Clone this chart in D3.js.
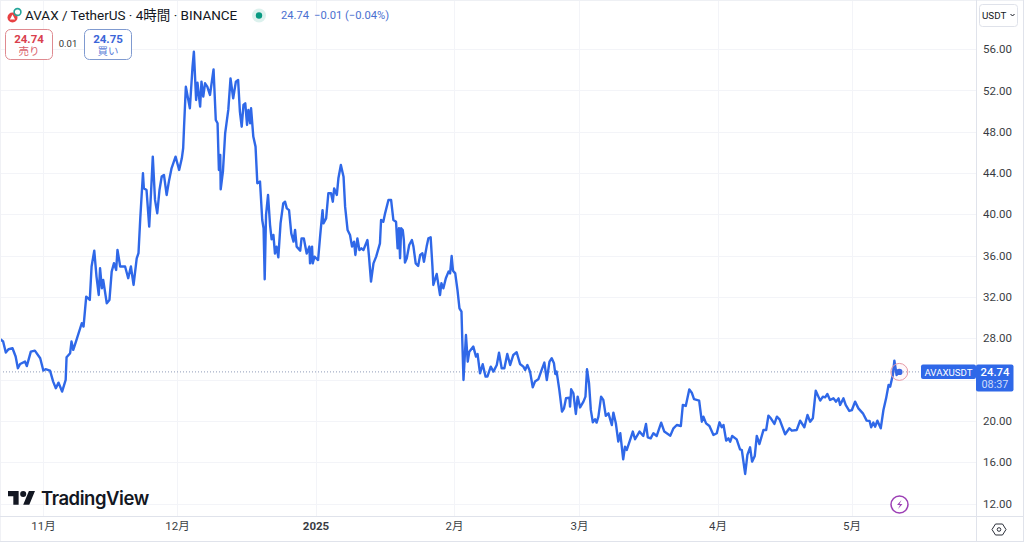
<!DOCTYPE html>
<html><head><meta charset="utf-8">
<script src="https://cdn.jsdelivr.net/npm/d3@7"></script>
<style>html,body{margin:0;padding:0;background:#fff;overflow:hidden}svg{display:block}text{font-family:Roboto,"Noto Sans CJK JP",sans-serif}</style>
</head><body><svg id="c" width="1024" height="544"></svg>
<script>
// Days elapsed since the first sample
const sampleDays=[0,.7,1.3,1.9,2.8,3.5,4,4.5,5.6,6,6.9,7.8,9,9.7,10.2,11.2,11.9,12.5,13.1,13.9,14.7,14.9,15.7,16,16.4,17,18.3,18.7,19.3,20.1,20.5,21.1,21.6,22.1,22.4,22.8,23.1,23.9,24.5,25,25.5,26,26.3,26.9,28,28.7,29.3,29.9,30.6,31,31.4,32,32.2,32.8,33.4,33.8,34.2,34.7,35.2,35.7,36.2,36.7,37.3,37.8,38.4,39.3,40.1,40.7,41,41.2,41.6,42.5,43.1,43.4,43.9,44.2,44.8,45.1,45.5,45.9,46.4,47,47.8,48.3,48.7,49,49.3,49.4,49.9,50.4,51.1,51.6,52.2,52.8,53.3,53.7,54.1,54.5,54.9,55.3,55.6,56,56.2,56.7,57.2,57.6,58.2,58.7,59,59.25,
59.55,60,60.45,60.8,61.2,61.55,61.9,62.3,62.8,63.4,63.8,64.2,64.7,65.2,65.7,66.05,66.4,67.2,67.5,68,68.65,69.25,69.4,69.85,70,70.4,71.2,71.65,72.2,72.4,73,73.5,74.1,74.5,74.8,75.4,75.75,76.3,76.9,77.25,77.8,78.35,78.8,79.25,79.55,80,80.45,80.9,81.35,82.25,82.6,83.05,83.6,84.2,85.05,85.3,85.8,86.2,86.95,87.55,88.05,88.65,89,89.3,89.55,89.8,90.15,90.4,90.65,91.05,91.6,92.2,92.55,93.05,93.6,94.05,94.55,94.9,95.5,95.9,96.4,96.8,97,97.75,98.5,98.8,99.25,99.8,100.4,100.75,101.1,101.4,101.9,102.4,102.85,103.3,103.5,103.75,
103.95,104.3,104.7,105.05,105.95,106.55,106.9,107.45,108.05,108.7,109.1,109.85,110.45,111.2,111.7,112.3,112.9,113.55,114.2,114.9,115.65,116.4,117.15,117.55,118.05,118.65,119.25,119.75,120.5,121.25,121.85,122.4,123,123.5,124,124.3,124.6,125.2,125.8,126.25,126.7,127.45,127.6,127.85,128.35,128.9,129.3,129.85,130.6,131.05,131.4,131.85,132.25,132.7,133.2,133.55,133.95,134.55,135.05,135.6,136.2,136.95,137.3,137.85,138.4,138.85,139.5,139.9,140.3,141.05,141.65,142.15,143.15,144,144.6,145,145.65,146.25,147,148,148.7,149.25,150.05,
150.75,151.5,152.4,152.85,153.5,154.3,154.85,155.35,156.5,157.1,157.45,158.05,158.8,159.7,160.45,161.05,161.55,161.95,162.55,163.05,163.45,163.9,164.9,165.65,166.05,166.8,167.3,167.9,168.35,168.95,169.4,170,170.9,171.5,172,172.55,173.35,173.9,174.5,175.75,176.7,177.25,178.35,179.1,180.05,180.75,181.35,181.95,182.6,183.6,184.2,184.7,185.2,185.8,186.55,187.15,187.7,188.05,188.8,189.3,190.1,190.7,191.4,192.15,193.15,194,194.65,195,195.5,195.9,196.4,197.15,197.75,198.35,198.9,199.25,199.85,200.2,200.7,201.3];
// AVAX/USDT price at each sample
const prices=[27.94,27.68,26.61,26.93,27.03,26.23,25.1,25.5,25.74,25.3,26.7,26.8,26.06,24.87,25,24.87,23.8,23.16,23.7,22.84,23.96,26.16,26.55,27.68,26.87,27.68,29.45,29.13,32.03,31.71,34.94,36.48,33.97,32.19,34.77,32.84,33.65,31.39,31.71,34.45,35.26,34.61,36.55,34.94,34.94,33.81,34.94,33.16,35.74,36.23,39.61,43.97,42.52,42.35,38.81,42.03,45.58,41.39,40.1,42.35,43.65,43.81,41.87,43.16,44.45,45.58,44.29,45.42,46.39,48.48,52.35,50.26,54.29,55.74,51.06,52.74,50.42,52.84,51.39,52.68,52.35,51.55,54.03,49.13,48.81,44.29,45.74,42.42,44.13,47.84,50.1,53.16,51.23,52.84,53,49.94,48.48,50.58,50.74,48.65,50.1,48.81,50.26,47.52,46.55,43,43.16,39.45,38.65,33.71,
39.93,41.87,38.96,37.57,38,36.2,36.87,35.83,39.12,41.06,41.22,40.57,40.4,38.15,37.35,38.48,36.87,36.48,37.67,37.67,36.2,36.87,35.25,36.87,35.25,35.9,35.57,37.83,40.4,39.12,39.6,42.03,42.03,41.22,42.51,41.87,43.48,44.77,43.64,40.74,38.48,38,36.87,37.35,36.06,37.67,36.54,36.7,36.54,37.51,35.9,33.48,35.25,35.9,37.19,39.45,39.28,40.09,41.38,41.38,39.45,39.28,36.7,38.64,35.74,38.64,38.48,37.51,35.32,35.74,37.03,37.51,36.87,35.25,35,36.06,36.22,35.41,36.87,37.67,37.77,34.93,33.16,34.22,32.19,33.32,32.83,33.8,34.45,34.28,35.96,34.54,34.28,32.67,30.9,30.57,27.51,23.96,
25.57,28.31,25.73,26.7,27.19,26.22,26.47,24.6,25.48,24.28,24.28,25.25,24.77,25.41,26.6,25.09,25.09,26.47,25.41,26.38,26.64,25.51,25.25,24.93,25.41,24.77,23.25,23.8,24.02,24.93,25.64,23.96,25.73,26.06,25.57,24.54,24.77,23,20.9,21.22,22.19,22.25,21.38,23.06,22.67,20.67,22.35,21.3,21.86,22.35,24.99,23.64,21.06,19.86,20.15,19.83,20.41,22.35,22.03,20.48,20.73,19.6,20.8,19.77,18,18.8,16.28,17.5,17.19,18.15,18.96,18.22,18.96,18.54,19.7,18.41,18.31,18.8,18.54,19.83,18.96,18.8,18.57,
19.28,19.6,19.5,21.54,21.44,23.05,22.73,22.1,21.96,19.92,20.41,19.76,19.5,18.63,18.8,19.86,19.38,19.6,18.09,18.31,17.99,18.54,18.21,17.25,17.18,14.86,16.7,17.44,16.05,16.6,18.54,17.76,19.12,19.12,20.5,20.25,19.7,20.41,20.15,18.7,19.28,19.05,19.12,20.02,19.38,20.57,19.92,20.25,22.92,21.96,22.34,22.28,22.6,22.02,22.18,21.86,22.18,21.54,22.18,21.54,20.96,21.05,21.86,21.21,20.73,20.02,19.99,19.38,19.83,19.44,20.02,19.28,21.05,22.18,23.47,23.31,24.44,25.83,24.44,24.74];
const priceTicks=[56,52,48,44,40,36,32,28,20,16,12];
const monthLabels=["11月","12月","2025","2月","3月","4月","5月"];
const monthDates=[[2024,10],[2024,11],[2025,0],[2025,1],[2025,2],[2025,3],[2025,4]].map(d=>new Date(Date.UTC(d[0],d[1],1)));
const startTime=Date.UTC(2024,9,22,9);
const lastPrice=24.74;

const svg=d3.select("#c");
const BLUE="#2f68e8";
const x=d3.scaleUtc().domain([monthDates[0],monthDates[6]]).range([43,851.6]);
const y=d3.scaleLinear().domain([12,56]).range([503.5,49]);
const paneW=977,paneB=517;

// grid
const g=svg.append("g");
g.selectAll(".h").data(priceTicks.concat([24])).join("line").attr("x1",0).attr("x2",paneW).attr("y1",d=>Math.round(y(d))+.5).attr("y2",d=>Math.round(y(d))+.5).attr("stroke","#f3f4f8");
g.selectAll(".v").data(monthDates).join("line").attr("y1",0).attr("y2",paneB).attr("x1",d=>Math.round(x(d))+.5).attr("x2",d=>Math.round(x(d))+.5).attr("stroke","#f3f4f8");

// last price dotted line
svg.append("line").attr("x1",0).attr("x2",paneW).attr("y1",y(lastPrice)).attr("y2",y(lastPrice)).attr("stroke","#8f9bb8").attr("stroke-dasharray","1 2");

// series
const line=d3.line().x((d,i)=>x(new Date(startTime+sampleDays[i]*864e5))).y(d=>y(d));
svg.append("path").datum(prices).attr("d",line).attr("fill","none").attr("stroke",BLUE).attr("stroke-width",2.4).attr("stroke-linejoin","round");
const lastX=x(new Date(startTime+sampleDays[sampleDays.length-1]*864e5));
svg.append("circle").attr("cx",lastX).attr("cy",y(lastPrice)).attr("r",3.2).attr("fill",BLUE);
svg.append("circle").attr("cx",lastX).attr("cy",y(lastPrice)).attr("r",8.5).attr("fill","#e0527a").attr("fill-opacity",.04).attr("stroke","#e79aa6").attr("stroke-width",1);

// panes frame
const frame="#e0e3eb";
svg.append("line").attr("x1",.5).attr("x2",.5).attr("y1",0).attr("y2",541).attr("stroke","#f0f1f5");
svg.append("line").attr("x1",0).attr("x2",1024).attr("y1",.5).attr("y2",.5).attr("stroke","#eef0f4");
svg.append("line").attr("x1",976.5).attr("x2",976.5).attr("y1",0).attr("y2",541).attr("stroke",frame);
svg.append("line").attr("x1",0).attr("x2",1024).attr("y1",516.5).attr("y2",516.5).attr("stroke",frame);
svg.append("line").attr("x1",0).attr("x2",1024).attr("y1",541.5).attr("y2",541.5).attr("stroke",frame);
svg.append("line").attr("x1",1023.5).attr("x2",1023.5).attr("y1",0).attr("y2",541).attr("stroke",frame);

// y axis
const yAxis=svg.append("g").attr("transform","translate(977,0)").call(d3.axisRight(y).tickValues(priceTicks).tickSize(0).tickPadding(6).tickFormat(d3.format(".2f")));
yAxis.select(".domain").remove();
yAxis.selectAll("text").attr("font-size",11.5).attr("fill","#131722").attr("opacity",.85);

// x axis
const labelOf=new Map(monthDates.map((d,i)=>[+d,monthLabels[i]]));
const xAxis=svg.append("g").attr("transform","translate(0,517)").call(d3.axisBottom(x).tickValues(monthDates).tickSize(0).tickPadding(5).tickFormat(d=>labelOf.get(+d)));
xAxis.select(".domain").remove();
xAxis.selectAll("text").attr("font-size",11.5).attr("fill","#131722").attr("opacity",.85).attr("font-weight",d=>labelOf.get(+d)==="2025"?700:400);

// title row
const T=(s,px,py,fs,fill,o={})=>svg.append("text").attr("x",px).attr("y",py).attr("font-size",fs).attr("fill",fill).attr("text-anchor",o.a||"start").attr("font-weight",o.w||400).text(s);
svg.append("circle").attr("cx",12.5).attr("cy",17.5).attr("r",5).attr("fill","#e84142");
svg.append("path").attr("d","M12.5 14.5l-2.6 5h5.2z").attr("fill","#fff");
svg.append("circle").attr("cx",17.5).attr("cy",12).attr("r",3.4).attr("fill","none").attr("stroke","#26a69a").attr("stroke-width",1.6);
T("AVAX / TetherUS · 4時間 · BINANCE",25,20,13.5,"#131722");
svg.append("circle").attr("cx",259).attr("cy",15.5).attr("r",7).attr("fill","#089981").attr("fill-opacity",.14);
svg.append("circle").attr("cx",259).attr("cy",15.5).attr("r",3.2).attr("fill","#089981");
T("24.74",281,19,11.2,"#4a6fd0");
T("−0.01 (−0.04%)",314,19,11.2,"#4a6fd0");

// sell / buy
svg.append("rect").attr("x",5.5).attr("y",29.5).attr("width",47).attr("height",30).attr("rx",5).attr("fill","#fff").attr("stroke","#df8a90");
T("24.74",29,43,11.5,"#d9404e",{a:"middle",w:700});
T("売り",29,55,10.5,"#d9606a",{a:"middle"});
T("0.01",68,47,9.5,"#333",{a:"middle"});
svg.append("rect").attr("x",84.5).attr("y",29.5).attr("width",47).attr("height",30).attr("rx",5).attr("fill","#fff").attr("stroke","#7f9ad0");
T("24.75",108,43,11.5,"#3c66d8",{a:"middle",w:700});
T("買い",108,55,10.5,"#5c80d8",{a:"middle"});

// currency button
svg.append("rect").attr("x",979.5).attr("y",4.5).attr("width",38).attr("height",22).attr("rx",3).attr("fill","#fff").attr("stroke","#dfe2ea");
T("USDT",982,19,9.8,"#131722");
svg.append("path").attr("d","M1010.5 14l2 2 2-2").attr("fill","none").attr("stroke","#131722");

// price label
svg.append("rect").attr("x",921).attr("y",364.5).attr("width",55).attr("height",14.5).attr("rx",2).attr("fill",BLUE);
T("AVAXUSDT",948.5,375.5,9.7,"#fff",{a:"middle"});
svg.append("rect").attr("x",976).attr("y",364.5).attr("width",37.5).attr("height",27).attr("rx",2).attr("fill",BLUE);
T("24.74",995,375.5,11.3,"#fff",{a:"middle",w:500});
T("08:37",995,388,10.8,"#cfdcf8",{a:"middle"});

// lightning badge
svg.append("circle").attr("cx",899.5).attr("cy",504.5).attr("r",8.5).attr("fill","#fff").attr("stroke","#9c3fb5").attr("stroke-width",1.5);
svg.append("path").attr("d","M901.5 500l-4.5 5h3l-2 4 4.5-5h-3z").attr("fill","#9c3fb5");

// settings icon
svg.append("path").attr("d","M995.5 524h7l3.5 5.5-3.5 5.5h-7l-3.5-5.5z").attr("fill","none").attr("stroke","#2a2e39");
svg.append("circle").attr("cx",999).attr("cy",529.5).attr("r",1.8).attr("fill","none").attr("stroke","#2a2e39");

// TradingView logo
svg.append("g").attr("transform","translate(8,488) scale(.76)").append("path").attr("d","M14 22H7V11H0V4h14v18zM28 22h-8l7.5-18h8L28 22zM24 8a4 4 0 1 1-8 0 4 4 0 0 1 8 0z").attr("fill","#131722");
svg.append("text").attr("x",41).attr("y",505).attr("font-size",18.5).attr("font-weight",600).attr("letter-spacing",-.45).attr("fill","#131722").style("font-family","Inter").text("TradingView");
</script></body></html>
